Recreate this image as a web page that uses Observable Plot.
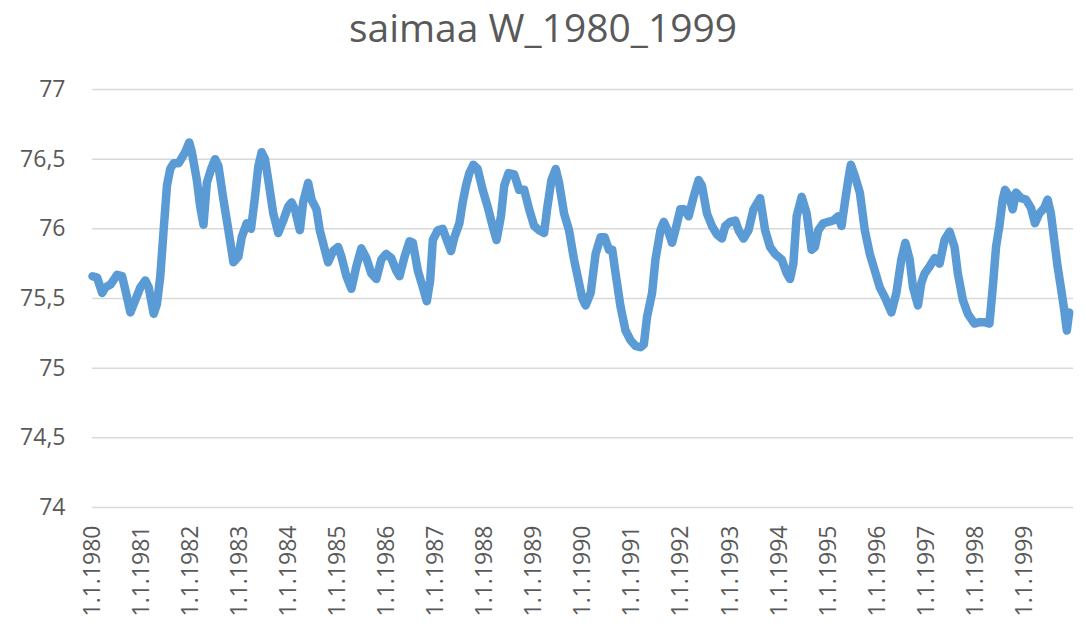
<!DOCTYPE html>
<html>
<head>
<meta charset="utf-8">
<script src="https://cdn.jsdelivr.net/npm/d3@7"></script>
<script src="https://cdn.jsdelivr.net/npm/@observablehq/plot@0.6"></script>
<style>
  body { margin: 0; background: #fff; }
  #title { width: 1086px; height: 62px; line-height: 53px; text-align: center;
           font-family: "Open Sans", sans-serif; font-size: 39px; color: #595959; overflow: hidden; }
</style>
</head>
<body>
<div id="title">saimaa W_1980_1999</div>
<div id="chart"></div>
<script>
// decimal years since 1.1.1980
const yearOffsets = [
  0.0,0.095,0.197,0.264,0.366,0.501,0.603,0.671,0.772,0.874,0.976,1.077,1.145,1.247,1.314,1.382,1.450,1.518,1.585,1.653,
  1.755,1.823,1.890,1.972,2.026,2.127,2.195,2.263,2.331,2.419,2.500,2.568,2.669,2.771,2.873,2.974,3.042,3.144,3.232,3.313,
  3.381,3.449,3.516,3.584,3.686,3.787,3.889,3.990,4.058,4.126,4.228,
  4.295,4.397,4.465,4.566,4.634,4.736,4.803,4.905,5.007,5.075,5.176,5.278,5.379,5.481,5.583,5.684,5.786,5.888,5.989,6.091,
  6.192,6.260,6.362,6.463,6.531,6.633,6.734,6.816,6.884,6.938,7.039,7.141,7.243,7.310,7.378,7.480,7.547,7.615,7.683,7.764,
  7.852,7.954,8.055,8.157,8.238,8.327,8.394,8.482,
  8.598,8.699,8.801,8.902,9.004,9.106,9.207,9.275,9.356,9.444,9.512,9.614,9.715,9.817,9.919,9.986,10.054,10.156,10.257,
  10.359,10.440,10.528,10.596,10.664,10.766,10.867,10.969,11.070,11.172,11.240,11.307,11.409,11.477,11.579,11.646,11.728,
  11.816,11.883,11.985,12.066,12.154,12.256,12.358,12.425,12.527,12.629,12.730,12.832,12.900,
  13.001,13.103,13.171,13.272,13.374,13.476,13.611,13.713,13.814,13.916,14.051,14.153,14.221,14.289,14.356,14.458,14.560,
  14.661,14.729,14.797,14.898,15.0,15.102,15.203,15.271,15.339,15.407,15.461,15.542,15.644,15.745,15.847,15.949,16.050,
  16.152,16.287,16.389,
  16.490,16.572,16.660,16.728,16.829,16.897,16.965,17.066,17.168,17.270,17.371,17.473,17.575,17.642,17.744,17.846,17.981,
  18.083,18.184,18.286,18.354,18.421,18.489,18.557,18.604,18.692,18.760,18.828,18.929,19.031,19.133,19.214,19.302,19.404,
  19.472,19.539,19.607,19.675,19.742,19.810,19.864,19.912
];
// water level
const levels = [
  75.66,75.65,75.54,75.58,75.60,75.67,75.66,75.56,75.40,75.49,75.58,75.63,75.58,75.39,75.46,75.66,75.99,76.31,76.43,76.47,
  76.47,76.51,76.55,76.62,76.55,76.35,76.16,76.03,76.33,76.43,76.50,76.45,76.21,75.99,75.76,75.80,75.94,76.04,76.00,76.23,
  76.45,76.55,76.50,76.35,76.11,75.97,76.06,76.16,76.19,76.14,75.99,
  76.19,76.33,76.21,76.14,75.99,75.85,75.76,75.84,75.87,75.80,75.66,75.57,75.73,75.86,75.79,75.68,75.64,75.78,75.82,75.79,
  75.70,75.66,75.80,75.91,75.90,75.70,75.58,75.48,75.63,75.92,75.99,76.00,75.90,75.84,75.94,76.04,76.19,76.31,76.40,76.46,
  76.43,76.28,76.16,76.02,75.92,76.09,76.31,76.40,
  76.39,76.28,76.28,76.14,76.02,75.99,75.97,76.16,76.35,76.43,76.33,76.11,75.99,75.78,75.61,75.50,75.45,75.54,75.82,
  75.94,75.94,75.85,75.85,75.68,75.44,75.27,75.20,75.16,75.15,75.17,75.37,75.54,75.78,75.99,76.05,75.99,
  75.90,75.99,76.14,76.14,76.09,76.23,76.35,76.31,76.11,76.02,75.96,75.93,76.02,
  76.05,76.06,75.99,75.93,75.99,76.14,76.22,75.99,75.87,75.82,75.78,75.68,75.64,75.75,76.09,76.23,76.11,
  75.85,75.87,75.99,76.04,76.05,76.06,76.09,76.02,76.19,76.35,76.46,76.38,76.26,75.99,75.82,75.70,75.58,
  75.51,75.40,75.54,
  75.78,75.90,75.78,75.58,75.45,75.61,75.68,75.73,75.79,75.75,75.92,75.98,75.87,75.68,75.49,75.39,75.32,
  75.33,75.33,75.32,75.58,75.87,76.02,76.21,76.28,76.23,76.14,76.26,76.22,76.21,76.15,76.04,76.11,
  76.15,76.21,76.11,75.92,75.73,75.58,75.42,75.27,75.40
];
const tickYears = d3.range(1980, 2000);
const yTicks = [74, 74.5, 75, 75.5, 76, 76.5, 77];

const data = yearOffsets.map((o, i) => ({year: 1980 + o, level: levels[i]}));

const chart = Plot.plot({
  width: 1086,
  height: 580,
  marginTop: 27,
  marginBottom: 135,
  marginLeft: 92,
  marginRight: 13,
  style: {fontFamily: "Open Sans, sans-serif", fontSize: "23px", color: "#595959", background: "#fff"},
  x: {domain: [1980, 2000], label: null},
  y: {domain: [74, 77], label: null},
  marks: [
    Plot.gridY(yTicks, {stroke: "#d9d9d9", strokeOpacity: 1, strokeWidth: 1.5}),
    Plot.axisY(yTicks, {tickSize: 0, tickPadding: 27, tickFormat: d => String(d).replace(".", ","), label: null}),
    Plot.axisX(tickYears, {tickSize: 0, tickPadding: 18, tickRotate: -90, tickFormat: d => "1.1." + d, label: null}),
    Plot.line(data, {x: "year", y: "level", stroke: "#5b9bd5", strokeWidth: 8.5, strokeLinejoin: "round", strokeLinecap: "round", curve: "linear"})
  ]
});
document.getElementById("chart").appendChild(chart);
</script>
</body>
</html>
